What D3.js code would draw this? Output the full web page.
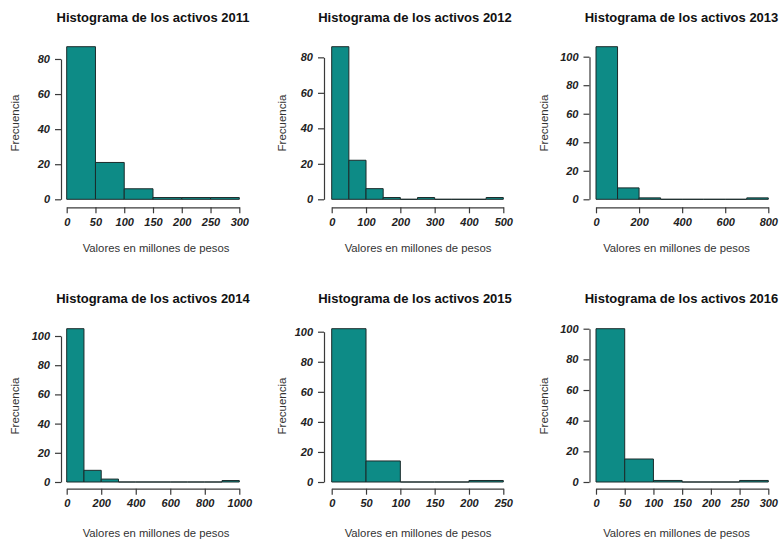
<!DOCTYPE html>
<html><head><meta charset="utf-8">
<script src="https://cdn.jsdelivr.net/npm/d3@7"></script>
<style>
html,body{margin:0;padding:0;background:#fff;}
svg{display:block;}
</style></head>
<body>
<svg id="chart" width="780" height="548"></svg>
<script>
// ---- DATA ----
const years = ["2011", "2012", "2013", "2014", "2015", "2016"];
const binWidths = [50, 50, 100, 100, 50, 50];
const counts2011 = [87, 21, 6, 1, 1, 1];
const counts2012 = [86, 22, 6, 1, 0, 1, 0, 0, 0, 1];
const counts2013 = [107, 8, 1, 0, 0, 0, 0, 1];
const counts2014 = [105, 8, 2, 0, 0, 0, 0, 0, 0, 1];
const counts2015 = [102, 14, 0, 0, 1];
const counts2016 = [100, 15, 1, 0, 0, 1];
const xTicks2011 = [0, 50, 100, 150, 200, 250, 300];
const xTicks2012 = [0, 100, 200, 300, 400, 500];
const xTicks2013 = [0, 200, 400, 600, 800];
const xTicks2014 = [0, 200, 400, 600, 800, 1000];
const xTicks2015 = [0, 50, 100, 150, 200, 250];
const xTicks2016 = [0, 50, 100, 150, 200, 250, 300];
const yTicks2011 = [0, 20, 40, 60, 80];
const yTicks2012 = [0, 20, 40, 60, 80];
const yTicks2013 = [0, 20, 40, 60, 80, 100];
const yTicks2014 = [0, 20, 40, 60, 80, 100];
const yTicks2015 = [0, 20, 40, 60, 80, 100];
const yTicks2016 = [0, 20, 40, 60, 80, 100];
const titlePrefix = "Histograma de los activos ";
const xAxisTitle = "Valores en millones de pesos";
const yAxisTitle = "Frecuencia";

const allCounts = [counts2011, counts2012, counts2013, counts2014, counts2015, counts2016];
const allXTicks = [xTicks2011, xTicks2012, xTicks2013, xTicks2014, xTicks2015, xTicks2016];
const allYTicks = [yTicks2011, yTicks2012, yTicks2013, yTicks2014, yTicks2015, yTicks2016];

// ---- LAYOUT ----
const rows = [
  {oy: 0,   y0: 199.3, yTop: 46.7, axisY: 207.3, titleY: 21.5, xlabY: 252, ylabY: 123},
  {oy: 278, y0: 204,   yTop: 50.7, axisY: 210.7, titleY: 24.5, xlabY: 259, ylabY: 128}
];
const cols = [
  [{ox: 0,   x0: 66.7, x1: 239.3, yAxisX: 61,   ylabX: 15,   titleX: 153,   xlabX: 156}],
  [{ox: 260, x0: 71.7, x1: 243.3, yAxisX: 64,   ylabX: 21.7, titleX: 155,   xlabX: 158}],
  [{ox: 520, x0: 76,   x1: 248.3, yAxisX: 69.5, ylabX: 24,   titleX: 161.5, xlabX: 156.5}]
];

const fill = "#0d8b86";
const edge = "#1b2b2b";
const axisCol = "#3a3a3a";

const svg = d3.select("#chart");

years.forEach((yr, i) => {
  const r = rows[Math.floor(i / 3)];
  const c = cols[i % 3][0];
  const counts = allCounts[i];
  const bw = binWidths[i];
  const xMax = counts.length * bw;
  const yMax = d3.max(counts);

  const g = svg.append("g").attr("transform", `translate(${c.ox},${r.oy})`);

  const x = d3.scaleLinear().domain([0, xMax]).range([c.x0, c.x1]);
  const y = d3.scaleLinear().domain([0, yMax]).range([r.y0, r.yTop]);

  // bars
  g.selectAll("path.bar").data(counts).enter().append("path")
    .attr("class", "bar")
    .attr("d", (d, k) => {
      const a = x(k * bw), b = x((k + 1) * bw);
      return `M${a},${y(0)}V${y(d)}H${b}V${y(0)}Z`;
    })
    .attr("fill", fill)
    .attr("stroke", edge)
    .attr("stroke-width", 1);

  // x axis
  const xt = allXTicks[i];
  const xAxis = d3.axisBottom(x).tickValues(xt).tickFormat(d3.format("d"))
    .tickSize(6).tickSizeOuter(0).tickPadding(5);
  const gx = g.append("g").attr("transform", `translate(0,${r.axisY})`).call(xAxis);

  // y axis (line spans first to last tick only, as in R)
  const yt = allYTicks[i];
  const yA = d3.scaleLinear().domain([0, yt[yt.length - 1]])
    .range([y(0), y(yt[yt.length - 1])]);
  const yAxis = d3.axisLeft(yA).tickValues(yt).tickFormat(d3.format("d"))
    .tickSize(6).tickSizeOuter(0).tickPadding(5);
  const gy = g.append("g").attr("transform", `translate(${c.yAxisX},0)`).call(yAxis);

  [gx, gy].forEach(ax => {
    ax.select(".domain").attr("stroke", axisCol).attr("stroke-width", 1.2);
    ax.selectAll(".tick line").attr("stroke", axisCol).attr("stroke-width", 1.2);
    ax.selectAll(".tick text")
      .attr("fill", "#222")
      .style("font-family", "'Liberation Sans', Arial, sans-serif")
      .style("font-size", "11px")
      .style("font-weight", "bold")
      .style("font-style", "italic");
  });

  // title
  g.append("text")
    .attr("x", c.titleX).attr("y", r.titleY)
    .attr("text-anchor", "middle")
    .style("font-family", "'Liberation Sans', Arial, sans-serif")
    .style("font-size", "13px").style("font-weight", "bold")
    .attr("fill", "#111")
    .text(titlePrefix + yr);

  // x label
  g.append("text")
    .attr("x", c.xlabX).attr("y", r.xlabY)
    .attr("text-anchor", "middle")
    .style("font-family", "'Liberation Sans', Arial, sans-serif")
    .style("font-size", "11.3px")
    .attr("fill", "#333")
    .text(xAxisTitle);

  // y label
  g.append("text")
    .attr("transform", `translate(${c.ylabX},${r.ylabY}) rotate(-90)`)
    .attr("text-anchor", "middle")
    .attr("dy", "0.35em")
    .style("font-family", "'Liberation Sans', Arial, sans-serif")
    .style("font-size", "11.5px")
    .attr("fill", "#333")
    .text(yAxisTitle);
});
</script>
</body></html>
